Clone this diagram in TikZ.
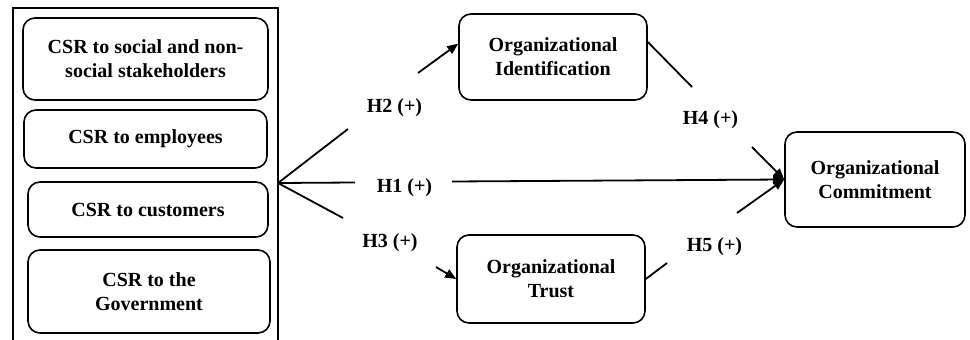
\documentclass[tikz,border=0pt]{standalone}
\usepackage{fontspec}
\setmainfont{Liberation Serif}
\usetikzlibrary{arrows.meta}
\begin{document}
\begin{tikzpicture}[x=1pt,y=-1pt,
  font=\fontsize{20}{24}\selectfont\bfseries,
  box/.style={draw, line width=1.6pt, rounded corners=12pt, align=center, inner sep=0pt},
  lbl/.style={inner sep=1pt},
  conn/.style={line width=1.8pt},
  arr/.style={conn, -{Triangle[length=11pt,width=9pt]}}]
\useasboundingbox (0,0) rectangle (970,340);
% outer frame (open at the bottom)
\draw[line width=1.2pt] (13,340) -- (13,8) -- (278,8) -- (278,340);
% left boxes
\node[box, minimum width=245pt, minimum height=82pt] (b1) at (145.5,59) {CSR to social and non-\\social stakeholders};
\node[box, minimum width=243pt, minimum height=58pt] (b2) at (145.5,139) {CSR to employees};
\node[box, minimum width=240pt, minimum height=55pt] (b3) at (148,209.5) {CSR to customers};
\node[box, minimum width=242pt, minimum height=83pt] (b4) at (149,291.5) {CSR to the\\Government};
% right boxes
\node[box, minimum width=188pt, minimum height=86pt] (ident) at (553,57) {Organizational\\Identification};
\node[box, minimum width=188pt, minimum height=88pt] (trust) at (551,279) {Organizational\\Trust};
\node[box, minimum width=180pt, minimum height=95pt] (commit) at (875,179.5) {Organizational\\Commitment};
% labels
\node[lbl] (h2) at (394.5,108) {H2 (+)};
\node[lbl] (h1) at (404.5,188) {H1 (+)};
\node[lbl] (h3) at (390,243) {H3 (+)};
\node[lbl] (h4) at (710.5,120) {H4 (+)};
\node[lbl] (h5) at (714.5,247) {H5 (+)};
% connector end points
\coordinate (fork) at (278,183);
\coordinate (h2a) at (348,129);
\coordinate (h2b) at (418,73);
\coordinate (h1a) at (355,182.5);
\coordinate (h1b) at (452,181.5);
\coordinate (h3a) at (343,218);
\coordinate (h3b) at (436,267);
\coordinate (h4a) at (692,87);
\coordinate (h4b) at (752,147);
\coordinate (h5a) at (667,263);
\coordinate (h5b) at (737,213);
% connectors
\draw[conn] (fork) -- (h2a);
\draw[arr] (h2b) -- (ident.172);
\draw[conn] (fork) -- (h1a);
\draw[arr] (h1b) -- (commit.west);
\draw[conn] (fork) -- (h3a);
\draw[arr] (h3b) -- (trust.west);
\draw[conn] (ident.9) -- (h4a);
\draw[arr] (h4b) -- (commit.west);
\draw[conn] (trust.east) -- (h5a);
\draw[arr] (h5b) -- (commit.west);
\end{tikzpicture}
\end{document}
